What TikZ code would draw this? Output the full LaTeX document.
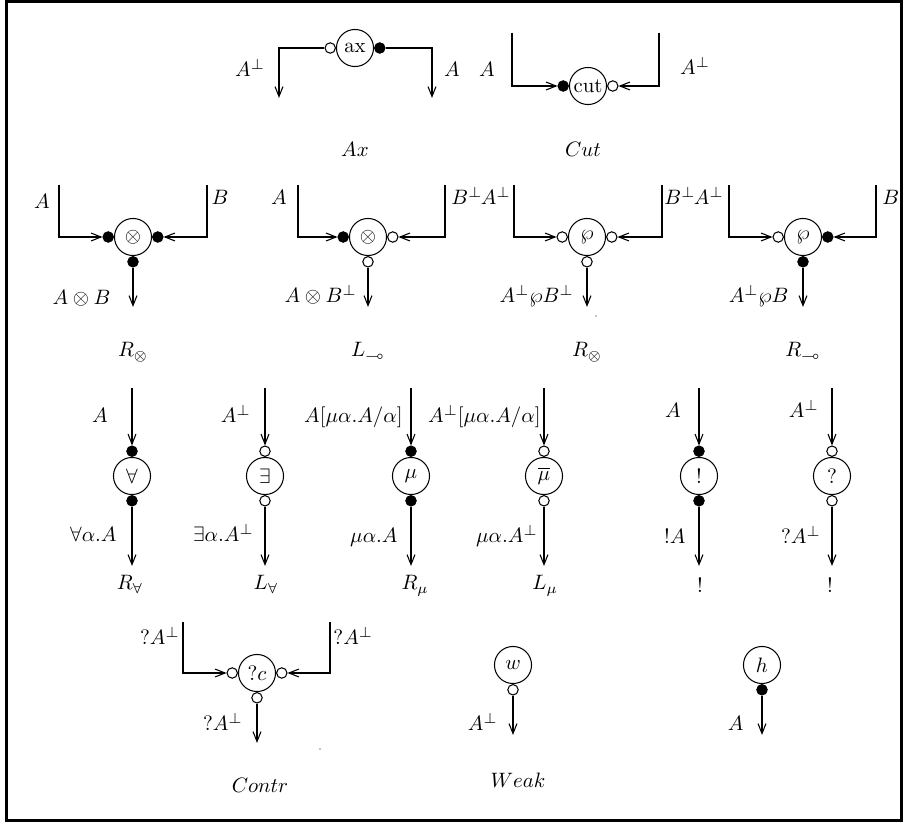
\documentclass[tikz,border=0pt]{standalone}
\usepackage{amssymb}
\usetikzlibrary{arrows.meta}
\tikzset{
  wire/.style={line width=0.5pt},
  arr/.style={wire,-{Straight Barb[length=4.8pt,width=3.8pt]}},
  gate/.style={circle,draw,line width=0.5pt,inner sep=0pt,minimum size=17.8pt},
  bdot/.style={circle,fill=black,draw,line width=0.5pt,inner sep=0pt,minimum size=5pt},
  wdot/.style={circle,draw,fill=white,line width=0.5pt,inner sep=0pt,minimum size=5pt},
  lbl/.style={inner sep=0pt,anchor=base},
  lble/.style={inner sep=0pt,anchor=base east},
  lblw/.style={inner sep=0pt,anchor=base west},
}
\begin{document}
\begin{tikzpicture}[x=0.48pt,y=-0.48pt]
\useasboundingbox (0,0) rectangle (904,823);
\draw[line width=1.44pt] (6.5,1.5) rectangle (901,820.5);

% ---- Ax
\node[gate] (ax) at (355,48) {ax};
\node[wdot,anchor=east] (axl) at (ax.west) {};
\node[bdot,anchor=west] (axr) at (ax.east) {};
\coordinate (axle) at (279,98);
\coordinate (axre) at (432,98);
\draw[arr] (axl.west) -| (axle);
\draw[arr] (axr.east) -| (axre);
\node[lbl] (lax1) at (250,77) {$A^\perp$};
\node[lbl] (lax2) at (452,77) {$A$};
\node[lbl] (lax) at (355,157) {$Ax$};

% ---- Cut
\node[gate] (cut) at (588,86) {cut};
\node[bdot,anchor=east] (cutl) at (cut.west) {};
\node[wdot,anchor=west] (cutr) at (cut.east) {};
\coordinate (cutlt) at (512,33);
\coordinate (cutrt) at (659,33);
\draw[arr] (cutlt) |- (cutl.west);
\draw[arr] (cutrt) |- (cutr.east);
\node[lbl] (lcut1) at (487,77) {$A$};
\node[lbl] (lcut2) at (695,75) {$A^\perp$};
\node[lbl] (lcut) at (583,157) {$Cut$};

% ---- R tensor
\node[gate] (ga) at (133,237) {$\otimes$};
\node[bdot,anchor=east] (gal) at (ga.west) {};
\node[bdot,anchor=west] (gar) at (ga.east) {};
\node[bdot,anchor=north] (gab) at (ga.south) {};
\coordinate (galt) at (59,185);
\coordinate (gart) at (207,185);
\coordinate (gabe) at (133,307);
\draw[arr] (galt) |- (gal.west);
\draw[arr] (gart) |- (gar.east);
\draw[arr] (gab.south) -- (gabe);
\node[lbl] (la1) at (42,209) {$A$};
\node[lbl] (la2) at (220,205) {$B$};
\node[lble] (la3) at (111,305) {$A\otimes B$};
\node[lbl] (la) at (133,357) {$R_{\otimes}$};

% ---- L lollipop
\node[gate] (gb) at (368,237) {$\otimes$};
\node[bdot,anchor=east] (gbl) at (gb.west) {};
\node[wdot,anchor=west] (gbr) at (gb.east) {};
\node[wdot,anchor=north] (gbb) at (gb.south) {};
\coordinate (gblt) at (298,185);
\coordinate (gbrt) at (445,185);
\coordinate (gbbe) at (368,307);
\draw[arr] (gblt) |- (gbl.west);
\draw[arr] (gbrt) |- (gbr.east);
\draw[arr] (gbb.south) -- (gbbe);
\node[lbl] (lb1) at (279,205) {$A$};
\node[lblw] (lb2) at (451,205) {$B^\perp$};
\node[lble] (lb3) at (357,303) {$A\otimes B^\perp$};
\node[lbl] (lb) at (368,357) {$L_{\multimap}$};

% ---- R par
\node[gate] (gc) at (587,237) {$\wp$};
\node[wdot,anchor=east] (gcl) at (gc.west) {};
\node[wdot,anchor=west] (gcr) at (gc.east) {};
\node[wdot,anchor=north] (gcb) at (gc.south) {};
\coordinate (gclt) at (514,185);
\coordinate (gcrt) at (662,185);
\coordinate (gcbe) at (587,307);
\draw[arr] (gclt) |- (gcl.west);
\draw[arr] (gcrt) |- (gcr.east);
\draw[arr] (gcb.south) -- (gcbe);
\node[lble] (lc1) at (511,205) {$A^\perp$};
\node[lblw] (lc2) at (664,205) {$B^\perp$};
\node[lble] (lc3) at (574,303) {$A^\perp\wp B^\perp$};
\node[lbl] (lc) at (587,357) {$R_{\otimes}$};

% ---- R lollipop
\node[gate] (gd) at (803,237) {$\wp$};
\node[wdot,anchor=east] (gdl) at (gd.west) {};
\node[bdot,anchor=west] (gdr) at (gd.east) {};
\node[bdot,anchor=north] (gdb) at (gd.south) {};
\coordinate (gdlt) at (729,185);
\coordinate (gdrt) at (876,185);
\coordinate (gdbe) at (803,307);
\draw[arr] (gdlt) |- (gdl.west);
\draw[arr] (gdrt) |- (gdr.east);
\draw[arr] (gdb.south) -- (gdbe);
\node[lble] (ld1) at (724,205) {$A^\perp$};
\node[lblw] (ld2) at (882,205) {$B$};
\node[lble] (ld3) at (789,303) {$A^\perp\wp B$};
\node[lbl] (ld) at (803,357) {$R_{\multimap}$};

\fill (596,316) circle (0.6);

% ---- Row 3
% forall
\node[gate] (ge) at (132,476) {$\forall$};
\node[bdot,anchor=south] (get) at (ge.north) {};
\node[bdot,anchor=north] (geb) at (ge.south) {};
\coordinate (ges) at (132,388);
\coordinate (gee) at (132,566);
\draw[arr] (ges) -- (get.north);
\draw[arr] (geb.south) -- (gee);
\node[lbl] (le1) at (100,423) {$A$};
\node[lble] (le2) at (117,542) {$\forall\alpha.A$};
\node[lbl] (le) at (130,590) {$R_{\forall}$};

% exists
\node[gate] (gf) at (265,476) {$\exists$};
\node[wdot,anchor=south] (gft) at (gf.north) {};
\node[wdot,anchor=north] (gfb) at (gf.south) {};
\coordinate (gfs) at (265,388);
\coordinate (gfe) at (265,566);
\draw[arr] (gfs) -- (gft.north);
\draw[arr] (gfb.south) -- (gfe);
\node[lble] (lf1) at (251,423) {$A^\perp$};
\node[lble] (lf2) at (254,542) {$\exists\alpha.A^\perp$};
\node[lbl] (lf) at (266,590) {$L_{\forall}$};

% mu
\node[gate] (gg) at (411,476) {$\mu$};
\node[bdot,anchor=south] (ggt) at (gg.north) {};
\node[bdot,anchor=north] (ggb) at (gg.south) {};
\coordinate (ggs) at (411,388);
\coordinate (gge) at (411,566);
\draw[arr] (ggs) -- (ggt.north);
\draw[arr] (ggb.south) -- (gge);
\node[lble] (lg1) at (403,423) {$A[\mu\alpha.A/\alpha]$};
\node[lble] (lg2) at (398,543) {$\mu\alpha.A$};
\node[lbl] (lg) at (415,590) {$R_{\mu}$};

% mu bar
\node[gate] (gh) at (544,476) {$\overline{\mu}$};
\node[wdot,anchor=south] (ght) at (gh.north) {};
\node[wdot,anchor=north] (ghb) at (gh.south) {};
\coordinate (ghs) at (544,388);
\coordinate (ghe) at (544,566);
\draw[arr] (ghs) -- (ght.north);
\draw[arr] (ghb.south) -- (ghe);
\node[lble] (lh1) at (541,423) {$A^\perp[\mu\alpha.A/\alpha]$};
\node[lble] (lh2) at (538,543) {$\mu\alpha.A^\perp$};
\node[lbl] (lh) at (545,590) {$L_{\mu}$};

% !
\node[gate] (gi) at (699,476) {!};
\node[bdot,anchor=south] (git) at (gi.north) {};
\node[bdot,anchor=north] (gib) at (gi.south) {};
\coordinate (gis) at (699,388);
\coordinate (gie) at (699,566);
\draw[arr] (gis) -- (git.north);
\draw[arr] (gib.south) -- (gie);
\node[lbl] (li1) at (673,418) {$A$};
\node[lble] (li2) at (686,544) {$!A$};
\node[lbl] (li) at (700,593) {!};

% ?
\node[gate] (gj) at (832,476) {?};
\node[wdot,anchor=south] (gjt) at (gj.north) {};
\node[wdot,anchor=north] (gjb) at (gj.south) {};
\coordinate (gjs) at (832,388);
\coordinate (gje) at (832,566);
\draw[arr] (gjs) -- (gjt.north);
\draw[arr] (gjb.south) -- (gje);
\node[lble] (lj1) at (819,418) {$A^\perp$};
\node[lble] (lj2) at (821,544) {$?A^\perp$};
\node[lbl] (lj) at (830,593) {!};

% ---- Row 4
% Contr
\node[gate] (gk) at (257,673) {$?c$};
\node[wdot,anchor=east] (gkl) at (gk.west) {};
\node[wdot,anchor=west] (gkr) at (gk.east) {};
\node[wdot,anchor=north] (gkb) at (gk.south) {};
\coordinate (gklt) at (183,622);
\coordinate (gkrt) at (330,622);
\coordinate (gkbe) at (257,743);
\draw[arr] (gklt) |- (gkl.west);
\draw[arr] (gkrt) |- (gkr.east);
\draw[arr] (gkb.south) -- (gkbe);
\node[lble] (lk1) at (180,645) {$?A^\perp$};
\node[lblw] (lk2) at (333,645) {$?A^\perp$};
\node[lble] (lk3) at (243,731) {$?A^\perp$};
\node[lbl] (lk) at (260,793) {$Contr$};

\fill (320,749) circle (0.6);

% Weak
\node[gate] (gw) at (513,665) {$w$};
\node[wdot,anchor=north] (gwb) at (gw.south) {};
\coordinate (gwe) at (513,735);
\draw[arr] (gwb.south) -- (gwe);
\node[lble] (lw1) at (498,731) {$A^\perp$};
\node[lbl] (lw) at (518,788) {$Weak$};

% h
\node[gate] (gx) at (762,665) {$h$};
\node[bdot,anchor=north] (gxb) at (gx.south) {};
\coordinate (gxe) at (762,735);
\draw[arr] (gxb.south) -- (gxe);
\node[lble] (lx1) at (744,731) {$A$};
\end{tikzpicture}
\end{document}
